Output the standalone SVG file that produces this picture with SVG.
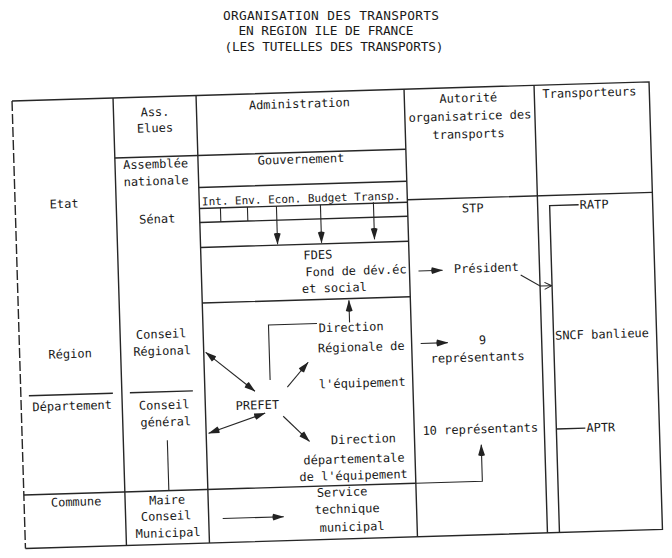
<svg xmlns="http://www.w3.org/2000/svg" width="672" height="558" viewBox="0 0 672 558">
<style>
text{font-family:"DejaVu Sans Mono","Liberation Mono",monospace;font-size:12px;fill:#1a1a1a}
.m{text-anchor:middle}
.t{font-size:12.8px;text-anchor:middle}
.s{font-size:11px}
.g{stroke:#262626;stroke-width:1.4;fill:none}
.d{stroke-dasharray:10 3}
.c{stroke:#262626;stroke-width:1.1;fill:none}
</style>
<defs>
<marker id="ah" viewBox="0 0 12 8" refX="11.5" refY="4" markerWidth="12" markerHeight="8" markerUnits="userSpaceOnUse" orient="auto-start-reverse">
<path d="M1,0.6 L12,4 L1,7.4 Q-0.6,4 1,0.6 z" fill="#222"/>
</marker>
<marker id="oa" viewBox="0 0 8 8" refX="7.5" refY="4" markerWidth="8" markerHeight="8" markerUnits="userSpaceOnUse" orient="auto">
<path d="M0.5,0.5 L7.5,4 L0.5,7.5" fill="none" stroke="#222" stroke-width="1"/>
</marker>
</defs>
<rect width="672" height="558" fill="#fff"/>
<g id="title">
<text class="t" x="331" y="20" textLength="216">ORGANISATION DES TRANSPORTS</text>
<text class="t" x="326" y="35" textLength="175">EN REGION ILE DE FRANCE</text>
<text class="t" x="334" y="51" textLength="219">(LES TUTELLES DES TRANSPORTS)</text>
</g>
<g transform="matrix(1 -0.03 0.03 1 -3 0.36)">
<g id="grid">
<path class="g d" d="M12,101 V548.5"/>
<path class="g" d="M12,101 H649 V548.5 H12"/>
<path class="g" d="M113,101 V548.5 M196,101 V548.5 M404,101 V548.5 M534,101 V548.5"/>
<path class="g" d="M113,161 H404 M404,211.5 H649 M196,193 H404 M196,214 H404 M196,228 H404 M196,253 H404 M196,308.5 H404"/>
<path class="g" d="M20,396 H104 M121,396 H184 M12,495 H404"/>
</g>
<g id="col-niveaux">
<text class="m" x="61" y="209.5">Etat</text>
<text class="m" x="62.5" y="359.5">Région</text>
<text class="m" x="63" y="411.5">Département</text>
<text class="m" x="64" y="507.5">Commune</text>
</g>
<g id="col-ass">
<text class="m" x="154.5" y="120.4">Ass.</text>
<text class="m" x="154" y="136.4">Elues</text>
<text class="m" x="153.5" y="172.4">Assemblée</text>
<text class="m" x="153.5" y="189.4">nationale</text>
<text class="m" x="153.5" y="227.4">Sénat</text>
<text class="m" x="154" y="342.4">Conseil</text>
<text class="m" x="154.5" y="359.4">Régional</text>
<text class="m" x="155" y="413.4">Conseil</text>
<text class="m" x="156" y="430.4">général</text>
<text class="m" x="155" y="508.4">Maire</text>
<text class="m" x="153.5" y="524.4">Conseil</text>
<text class="m" x="155" y="541.4">Municipal</text>
</g>
<g id="administration">
<text class="m" x="299" y="116.5">Administration</text>
</g>
<g id="gouvernement">
<text class="m" x="299" y="172">Gouvernement</text>
</g>
<g id="ministeres">
<text class="m s" x="298" y="211">Int. Env. Econ. Budget Transp.</text>
</g>
<g id="fdes">
<text x="298.5" y="268">FDES</text>
<text x="300" y="285">Fond de dév.éc</text>
<text x="296" y="301.5">et social</text>
</g>
<g id="dre">
<text class="m" x="344" y="341.3">Direction</text>
<text class="m" x="353.5" y="361.4">Régionale de</text>
<text class="m" x="353.5" y="397.4">l'équipement</text>
</g>
<g id="prefet">
<text class="m" x="248" y="416.4">PREFET</text>
</g>
<g id="dde">
<text class="m" x="353" y="453.4">Direction</text>
<text class="m" x="343" y="473">départementale</text>
<text class="m" x="342" y="489.5">de l'équipement</text>
</g>
<g id="stm">
<text class="m" x="330" y="505.7">Service</text>
<text class="m" x="334.5" y="522.7">technique</text>
<text class="m" x="339" y="540.8">municipal</text>
</g>
<g id="autorite">
<text class="m" x="468" y="115.8">Autorité</text>
<text class="m" x="469" y="133.8">organisatrice des</text>
<text class="m" x="467" y="151.8">transports</text>
</g>
<g id="stp">
<text class="m" x="469" y="226">STP</text>
</g>
<g id="president">
<text class="m" x="481" y="286.2">Président</text>
</g>
<g id="rep9">
<text class="m" x="475" y="358.1">9</text>
<text class="m" x="469.5" y="375.1">représentants</text>
</g>
<g id="rep10">
<text class="m" x="470" y="447">10 représentants</text>
</g>
<g id="transporteurs">
<text class="m" x="589" y="114">Transporteurs</text>
</g>
<g id="ratp">
<text x="576" y="226">RATP</text>
</g>
<g id="sncf">
<text x="547.5" y="355.8">SNCF banlieue</text>
</g>
<g id="aptr">
<text x="576" y="449">APTR</text>
</g>
<g id="connectors">
<path class="c" d="M217,214 V228 M244,214 V228"/>
<path class="c" marker-end="url(#ah)" d="M273,214 V252"/>
<path class="c" marker-end="url(#ah)" d="M317,214 V252"/>
<path class="c" marker-end="url(#ah)" d="M370,213 V250"/>
<path class="c" marker-end="url(#ah)" d="M413,283 H437"/>
<path class="c" marker-end="url(#ah)" d="M413,355.5 H440"/>
<path class="c" marker-end="url(#oa)" d="M515,290 L534,301.7 H545.5"/>
<path class="g" d="M546,221 V548.5 M546,221.6 H575 M546,445 H575"/>
<path class="c" marker-end="url(#ah)" d="M342.6,332.3 V310.3"/>
<path class="c" d="M261.5,387.5 V332.5 H310"/>
<path class="c" marker-start="url(#ah)" marker-end="url(#ah)" d="M198,357.9 L246,398.3"/>
<path class="c" marker-start="url(#ah)" marker-end="url(#ah)" d="M255.5,420.4 L198.5,438.9"/>
<path class="c" marker-end="url(#ah)" d="M278.5,395.2 L300,370.9"/>
<path class="c" marker-end="url(#ah)" d="M273.5,424.1 L299,449.9"/>
<path class="c" d="M157,444.5 V495"/>
<path class="c" marker-end="url(#ah)" d="M404,495 H470.5 V458.5"/>
<path class="c" marker-end="url(#ah)" d="M210,524.5 H271"/>
</g>
</g>
</svg>
